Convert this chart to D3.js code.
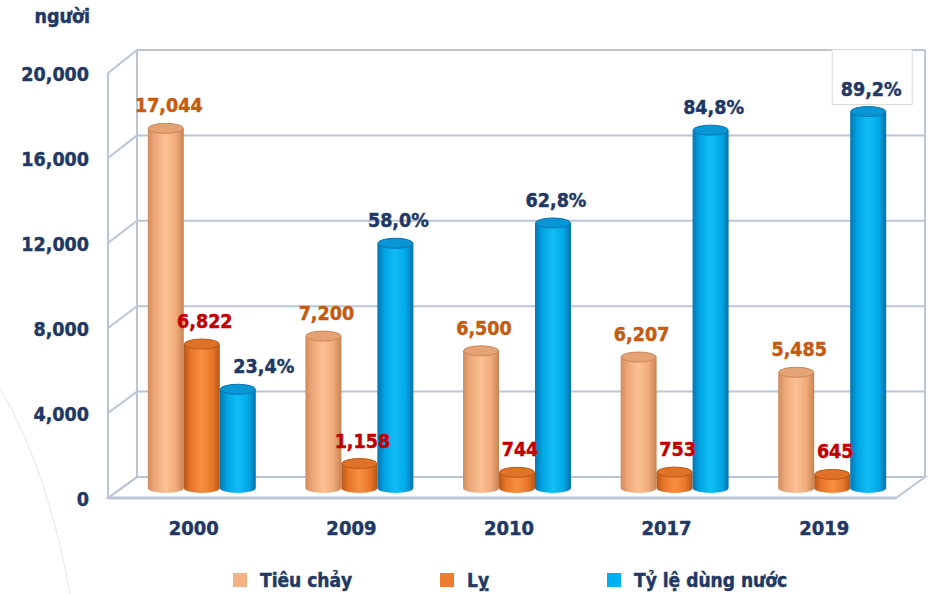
<!DOCTYPE html>
<html>
<head>
<meta charset="utf-8">
<script src="https://cdn.jsdelivr.net/npm/d3@7"></script>
<style>
  html, body { margin: 0; padding: 0; background: #ffffff; }
  svg { display: block; }
  text { font-family: "DejaVu Sans Condensed", "DejaVu Sans", sans-serif; font-weight: bold; font-stretch: condensed; paint-order: stroke; stroke-width: 0.45px; }
</style>
</head>
<body>
<svg id="chart" width="932" height="594"></svg>
<script>
// ---- data ----
const years = ["2000", "2009", "2010", "2017", "2019"];
const seriesNames = ["Tiêu chảy", "Lỵ", "Tỷ lệ dùng nước"];
const tieuChay = [17044, 7200, 6500, 6207, 5485];
const ly = [6822, 1158, 744, 753, 645];
const tyLeDungNuoc = [23.4, 58.0, 62.8, 84.8, 89.2]; // percent
const yTicks = [0, 4000, 8000, 12000, 16000, 20000];
const unitLabel = "người";

// ---- styles ----
const navy = "#1f3864";
const gridColor = "#bac6d6";
const labelColors = ["#c55a11", "#c00000", "#1f3864"];
const legendColors = ["#f4b183", "#ed7d31", "#00b0f0"];

const svg = d3.select("#chart");
const defs = svg.append("defs");

// 3D frame geometry
const backL = 137, backR = 925, frontL = 108, frontR = 896;
const yBack = d3.scaleLinear().domain([0, 20000]).range([477, 50]);
const yFront = d3.scaleLinear().domain([0, 20000]).range([498, 73]);
const yBar = d3.scaleLinear().domain([0, 20000]).range([488, 66]);
const pctToUnits = d3.scaleLinear().domain([0, 100]).range([0, 20000]);

// faint decorative arc on the left
svg.append("path")
  .attr("d", "M0,388 Q48,470 70,594")
  .attr("fill", "none").attr("stroke", "#e3e6ea").attr("stroke-width", 1);

// floor slab
svg.append("path")
  .attr("d", `M${frontL},${yFront(0)} L${backL},${yBack(0)} L${backR},${yBack(0)} L${frontR},${yFront(0)} Z`)
  .attr("fill", "#ffffff").attr("stroke", gridColor).attr("stroke-width", 2);

// back wall gridlines and left wall diagonals
const grid = svg.append("g");
yTicks.forEach(v => {
  grid.append("line")
    .attr("x1", backL).attr("x2", backR)
    .attr("y1", yBack(v)).attr("y2", yBack(v))
    .attr("stroke", gridColor).attr("stroke-width", 2);
  grid.append("line")
    .attr("x1", frontL).attr("x2", backL)
    .attr("y1", yFront(v)).attr("y2", yBack(v))
    .attr("stroke", gridColor).attr("stroke-width", 2);
});
// verticals
grid.append("line").attr("x1", backL).attr("x2", backL).attr("y1", yBack(20000)).attr("y2", yBack(0))
  .attr("stroke", gridColor).attr("stroke-width", 2);
grid.append("line").attr("x1", backR).attr("x2", backR).attr("y1", yBack(20000)).attr("y2", yBack(0))
  .attr("stroke", gridColor).attr("stroke-width", 2);
grid.append("line").attr("x1", frontL).attr("x2", frontL).attr("y1", yFront(20000)).attr("y2", yFront(0))
  .attr("stroke", gridColor).attr("stroke-width", 2);
// floor front edge (thicker)
grid.append("line").attr("x1", frontL).attr("x2", frontR).attr("y1", yFront(0)).attr("y2", yFront(0))
  .attr("stroke", gridColor).attr("stroke-width", 3);

// y axis tick labels
svg.append("g").selectAll("text").data(yTicks).join("text")
  .attr("x", 89).attr("y", d => yFront(d) + 1)
  .attr("text-anchor", "end").attr("dominant-baseline", "central")
  .attr("fill", navy).attr("stroke", navy).attr("font-size", 19.5)
  .text(d => d3.format(",")(d));

svg.append("text").attr("x", 90).attr("y", 23).attr("text-anchor", "end")
  .attr("fill", navy).attr("stroke", navy).attr("font-size", 19.5).text(unitLabel);

// scales for bars
const x0 = d3.scaleBand().domain(years).range([123, 911]).paddingInner(0.315).paddingOuter(0.1575);
const x1 = d3.scaleBand().domain(seriesNames).range([0, x0.bandwidth()]);

// gradients
const grads = [
  { id: "gPeach", stops: [[0, "#cf8c5e"], [0.18, "#eda678"], [0.5, "#fbc194"], [0.78, "#f1ab7b"], [1, "#c88352"]], top: "#e5a274", rim: "#c98759" },
  { id: "gOrange", stops: [[0, "#b9591a"], [0.2, "#e8762a"], [0.5, "#f88f3e"], [0.8, "#e9772b"], [1, "#b45616"]], top: "#df7226", rim: "#b95a19" },
  { id: "gBlue", stops: [[0, "#0775b3"], [0.2, "#00a4e4"], [0.5, "#12bdf6"], [0.8, "#00a6e6"], [1, "#0570aa"]], top: "#0896d4", rim: "#0673b0" }
];
grads.forEach(g => {
  const lg = defs.append("linearGradient").attr("id", g.id).attr("x1", "0").attr("x2", "1").attr("y1", "0").attr("y2", "0");
  g.stops.forEach(s => lg.append("stop").attr("offset", s[0]).attr("stop-color", s[1]));
});

const seriesValues = [tieuChay, ly, tyLeDungNuoc.map(p => pctToUnits(p))];
const seriesText = [
  tieuChay.map(v => d3.format(",")(v)),
  ly.map(v => d3.format(",")(v)),
  tyLeDungNuoc.map(p => p.toFixed(1).replace(".", ",") + "%")
];

const rx = x1.bandwidth() / 2, ry = 5;
const bars = svg.append("g");
const labels = svg.append("g");
years.forEach((yr, i) => {
  seriesNames.forEach((s, k) => {
    const v = seriesValues[k][i];
    const xl = x0(yr) + x1(s);
    const xr = xl + x1.bandwidth();
    const cx = (xl + xr) / 2;
    const yt = yBar(v), yb = yBar(0);
    const g = grads[k];
    bars.append("path")
      .attr("d", `M${xl},${yt} L${xl},${yb} A${rx},${ry} 0 0 0 ${xr},${yb} L${xr},${yt} Z`)
      .attr("fill", `url(#${g.id})`);
    bars.append("ellipse")
      .attr("cx", cx).attr("cy", yt).attr("rx", rx - 0.5).attr("ry", ry)
      .attr("fill", g.top).attr("stroke", g.rim).attr("stroke-width", 1);

    // label
    const isBoxed = (k === 2 && i === years.length - 1);
    let lx = cx + 3;
    if (k === 2 && i === 0) lx = cx + 26;
    const ly_ = yt - ry - 11;
    if (isBoxed) {
      labels.append("rect")
        .attr("x", cx - 36).attr("y", ly_ - 46).attr("width", 80).attr("height", 55)
        .attr("fill", "#ffffff").attr("stroke", "#d9d9d9").attr("stroke-width", 1);
    }
    labels.append("text")
      .attr("x", lx).attr("y", ly_)
      .attr("text-anchor", "middle")
      .attr("fill", labelColors[k]).attr("stroke", labelColors[k]).attr("font-size", 19.5)
      .text(seriesText[k][i]);
  });
});

// category labels
svg.append("g").selectAll("text").data(years).join("text")
  .attr("x", d => x0(d) + x0.bandwidth() / 2 - 8)
  .attr("y", 535)
  .attr("text-anchor", "middle")
  .attr("fill", navy).attr("stroke", navy).attr("font-size", 20)
  .text(d => d);

// legend
const legendX = [233, 440, 607];
const legend = svg.append("g");
seriesNames.forEach((s, k) => {
  legend.append("rect").attr("x", legendX[k]).attr("y", 573).attr("width", 14).attr("height", 14)
    .attr("fill", legendColors[k]);
  legend.append("text").attr("x", legendX[k] + 27).attr("y", 587)
    .attr("fill", navy).attr("stroke", navy).attr("font-size", 19).text(s);
});
</script>
</body>
</html>
